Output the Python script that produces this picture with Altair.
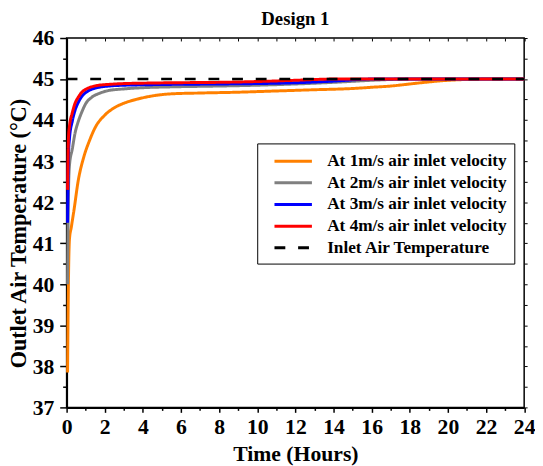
import altair as alt
import pandas as pd

# ---- data ----
series_names = [
    "At 1m/s air inlet velocity",
    "At 2m/s air inlet velocity",
    "At 3m/s air inlet velocity",
    "At 4m/s air inlet velocity",
    "Inlet Air Temperature",
]
series_colors = ["#FF8000", "#808080", "#0000FF", "#FF0000", "#000000"]

hours_1 = [0.05, 0.1, 0.15, 0.25, 0.4, 0.6, 0.9, 1.2, 1.5, 2.0, 2.5, 3.0, 3.7, 4.5, 5.5, 7, 9, 11, 13, 15, 16, 17, 18, 19, 20, 21, 22, 24]
temps_1 = [37.85, 40.2, 41.1, 41.4, 41.85, 42.5, 43.1, 43.5, 43.82, 44.12, 44.3, 44.41, 44.51, 44.59, 44.64, 44.66, 44.68, 44.71, 44.74, 44.77, 44.8, 44.83, 44.88, 44.93, 44.97, 44.99, 45.0, 45.0]

hours_2 = [0.05, 0.1, 0.15, 0.3, 0.45, 0.6, 0.8, 1.0, 1.3, 1.7, 2.2, 3, 4, 5.5, 8, 10, 12, 14, 16, 17, 18, 24]
temps_2 = [40.0, 42.3, 42.9, 43.3, 43.7, 43.95, 44.2, 44.4, 44.55, 44.65, 44.72, 44.76, 44.79, 44.81, 44.83, 44.85, 44.88, 44.92, 44.97, 44.99, 45.0, 45.0]

hours_3 = [0.05, 0.1, 0.15, 0.3, 0.45, 0.6, 0.8, 1.0, 1.3, 1.7, 2.2, 3, 4, 5.5, 8, 10, 12, 14, 16, 24]
temps_3 = [41.5, 43.2, 43.55, 43.98, 44.25, 44.42, 44.58, 44.67, 44.75, 44.8, 44.83, 44.85, 44.86, 44.87, 44.88, 44.89, 44.91, 44.95, 45.0, 45.0]

hours_4 = [0.05, 0.1, 0.15, 0.3, 0.45, 0.6, 0.8, 1.0, 1.3, 1.7, 2.2, 3, 4, 5.5, 8, 10, 12, 14, 24]
temps_4 = [42.3, 43.6, 43.85, 44.18, 44.42, 44.55, 44.68, 44.75, 44.81, 44.85, 44.87, 44.89, 44.9, 44.91, 44.92, 44.94, 44.97, 45.0, 45.0]

hours_inlet = [0, 24]
temps_inlet = [45, 45]

x_major = list(range(0, 25, 2))
x_minor = list(range(1, 24, 2))
x_all = list(range(0, 25))
y_major = list(range(37, 47))
y_minor = [37.5 + i for i in range(9)]
y_all = [37 + 0.5 * i for i in range(19)]

# ---- tables ----
rows = []
for name, hs, ts in zip(series_names[:4], [hours_1, hours_2, hours_3, hours_4], [temps_1, temps_2, temps_3, temps_4]):
    for i, (h, t) in enumerate(zip(hs, ts)):
        rows.append({"series": name, "hour": h, "temp": t, "idx": i})
df_lines = pd.DataFrame(rows)
df_inlet = pd.DataFrame({"series": series_names[4], "hour": hours_inlet, "temp": temps_inlet})

FONT = "Liberation Serif"
xscale = alt.Scale(domain=[0, 24], nice=False, zero=False)
yscale = alt.Scale(domain=[37, 46], nice=False, zero=False)

legend = alt.Legend(
    title=None, orient="none", legendX=193.5, legendY=107,
    strokeColor="black", fillColor="white", padding=7,
    symbolType="M-0.05,0L3.95,0", symbolSize=361, symbolStrokeWidth=3,
    labelFont=FONT, labelFontWeight="bold", labelFontSize=17.5, labelColor="black",
    labelLimit=0, labelOffset=42, rowPadding=2,
)
color = alt.Color("series:N", scale=alt.Scale(domain=series_names, range=series_colors), legend=legend, sort=series_names)
dash = alt.StrokeDash("series:N", scale=alt.Scale(domain=series_names, range=[[1, 0], [1, 0], [1, 0], [1, 0], [11, 13]]), legend=legend, sort=series_names)

ax_bottom = alt.Axis(orient="bottom", values=x_major, tickSize=5, tickWidth=1.5, domainWidth=2,
                     title="Time (Hours)", titlePadding=7, labelPadding=4, labelFlush=False, format="d")
ax_left = alt.Axis(orient="left", values=y_major, tickSize=7, tickWidth=1.5, domainWidth=2,
                   title="Outlet Air Temperature (°C)", titlePadding=2, titleFontSize=22.5, titleY=198,
                   labelPadding=6, labelFlush=False, format="d")

lines = alt.Chart(df_lines).mark_line(strokeWidth=3, interpolate="monotone").encode(
    x=alt.X("hour:Q", scale=xscale, axis=ax_bottom),
    y=alt.Y("temp:Q", scale=yscale, axis=ax_left),
    color=color, strokeDash=dash, order="idx:Q",
)
inlet = alt.Chart(df_inlet).mark_line(strokeWidth=2.5).encode(
    x=alt.X("hour:Q", scale=xscale, axis=None),
    y=alt.Y("temp:Q", scale=yscale, axis=None),
    color=color, strokeDash=dash,
)
minor = alt.Chart(df_inlet).mark_point(opacity=0).encode(
    x=alt.X("hour:Q", scale=xscale, axis=alt.Axis(orient="bottom", values=x_minor, tickSize=3, tickWidth=1.5, labels=False, domain=False, title=None)),
    y=alt.Y("temp:Q", scale=yscale, axis=alt.Axis(orient="left", values=y_minor, tickSize=4, tickWidth=1.5, labels=False, domain=False, title=None)),
)
frame = alt.Chart(df_inlet).mark_point(opacity=0).encode(
    x=alt.X("hour:Q", scale=xscale, axis=alt.Axis(orient="top", values=x_all, tickSize=3, tickWidth=1, labels=False, domain=False, title=None, offset=-3)),
    y=alt.Y("temp:Q", scale=yscale, axis=alt.Axis(orient="right", values=y_all, tickSize=3, tickWidth=1, labels=False, domain=False, title=None)),
)

chart = alt.layer(lines, inlet, minor, frame).resolve_axis(x="independent", y="independent").properties(
    width=464.5, height=375,
    title=alt.TitleParams("Design 1", font=FONT, fontSize=19, fontWeight="bold", color="black", frame="group", anchor="middle", offset=-2),
    autosize=alt.AutoSizeParams(type="none"),
    padding={"left": 59.5, "top": 27, "right": 11, "bottom": 56},
).configure_view(stroke="black", strokeWidth=1.5).configure_axis(
    grid=False, labelFont=FONT, labelFontWeight="bold", labelFontSize=22, labelColor="black",
    titleFont=FONT, titleFontWeight="bold", titleFontSize=22, titleColor="black",
    tickColor="black", domainColor="black",
)

chart.save("out.html", embed_options={"renderer": "svg", "actions": False})
